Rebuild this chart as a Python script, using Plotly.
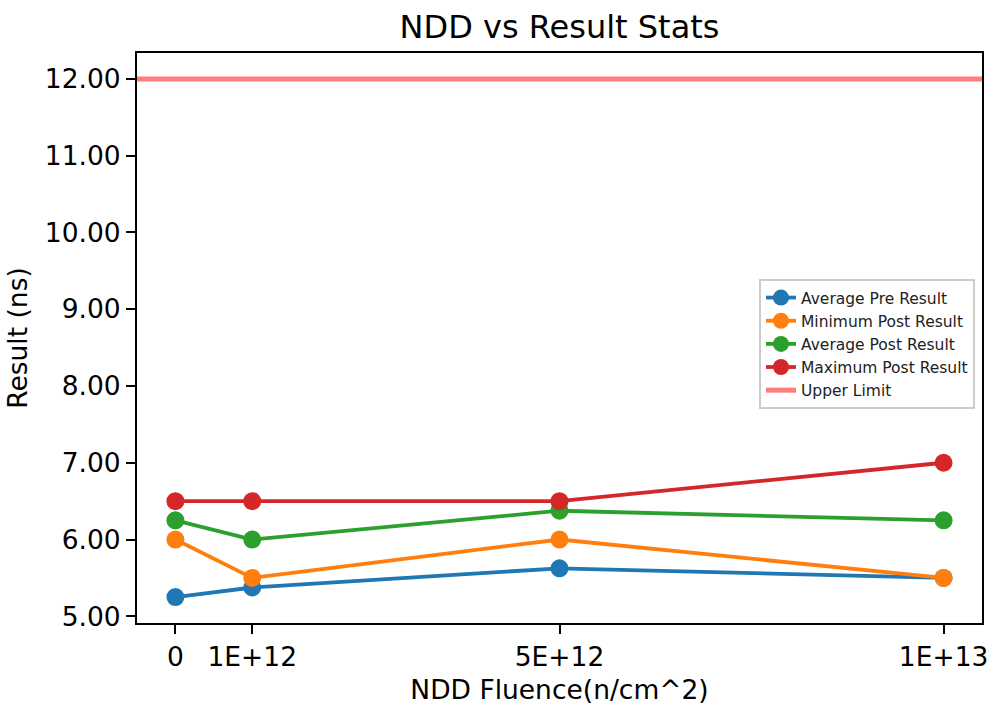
import plotly.graph_objects as go

# NDD fluence levels (n/cm^2) and their tick labels
fluence = [0, 1e12, 5e12, 1e13]
fluence_labels = ["0", "1E+12", "5E+12", "1E+13"]

# Result statistics (ns) per fluence level
avg_pre = [5.25, 5.375, 5.625, 5.5]
min_post = [6.0, 5.5, 6.0, 5.5]
avg_post = [6.25, 6.0, 6.375, 6.25]
max_post = [6.5, 6.5, 6.5, 7.0]
upper_limit = 12.0

y_ticks = [5, 6, 7, 8, 9, 10, 11, 12]
x_range = [-0.5e12, 10.5e12]
y_range = [4.9125, 12.3375]

series = [
    ("Average Pre Result", avg_pre, "#1f77b4"),
    ("Minimum Post Result", min_post, "#ff7f0e"),
    ("Average Post Result", avg_post, "#2ca02c"),
    ("Maximum Post Result", max_post, "#d62728"),
]

FONT = "DejaVu Sans"

fig = go.Figure()
for name, vals, color in series:
    fig.add_trace(go.Scatter(
        x=fluence, y=vals, name=name, mode="lines+markers",
        line=dict(color=color, width=3.8),
        marker=dict(color=color, size=18),
    ))

# Upper limit drawn across the full x extent
fig.add_trace(go.Scatter(
    x=x_range, y=[upper_limit, upper_limit], name="Upper Limit", mode="lines",
    line=dict(color="rgba(255,0,0,0.5)", width=5),
))

axis_common = dict(
    showline=True, linecolor="black", linewidth=2, mirror=True,
    ticks="outside", ticklen=9, tickwidth=2, tickcolor="black",
    showgrid=False, zeroline=False, automargin=False,
    tickfont=dict(family=FONT, size=26.5, color="black"),
)

fig.update_xaxes(
    **axis_common,
    range=x_range, tickmode="array", tickvals=fluence, ticktext=fluence_labels,
    title=dict(text="NDD Fluence(n/cm^2)", font=dict(family=FONT, size=26.5, color="black"), standoff=10),
)
fig.update_yaxes(
    **axis_common,
    range=y_range, tickmode="array", tickvals=y_ticks,
    ticktext=[f"{v:.2f}" for v in y_ticks],
    title=dict(text="Result (ns)", font=dict(family=FONT, size=26.5, color="black"), standoff=10),
)

fig.update_layout(
    width=993, height=719,
    margin=dict(l=137, r=11, t=53, b=96),
    paper_bgcolor="white", plot_bgcolor="white",
    font=dict(family=FONT, color="black"),
    title=dict(text="NDD vs Result Stats", x=0.5, xref="paper",
               y=1 - 27 / 719, yref="container", yanchor="middle",
               font=dict(family=FONT, size=32, color="black")),
    legend=dict(
        x=0.9917, y=0.6035, xanchor="right", yanchor="top",
        bgcolor="rgba(255,255,255,0.8)", bordercolor="#cccccc", borderwidth=2,
        font=dict(family=FONT, size=15.5, color="#222222"),
    ),
    showlegend=True,
)

fig.write_html("out.html")
